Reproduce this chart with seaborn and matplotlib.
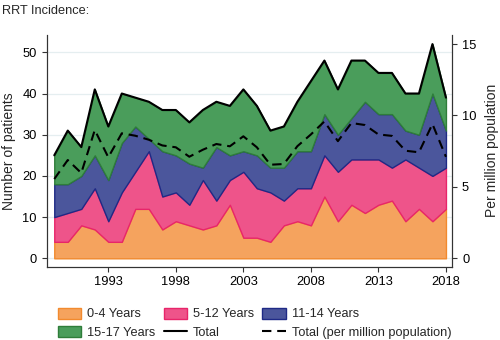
import matplotlib
matplotlib.use("Agg")
import matplotlib.pyplot as plt
import seaborn as sns
from matplotlib.patches import Patch
from matplotlib.lines import Line2D

years = list(range(1989, 2019))
age_0_4 = [4, 4, 8, 7, 4, 4, 12, 12, 7, 9, 8, 7, 8, 13, 5, 5, 4, 8, 9, 8, 15, 9, 13, 11, 13, 14, 9, 12, 9, 12]
cum_0_12 = [10, 11, 12, 17, 9, 16, 21, 26, 15, 16, 13, 19, 14, 19, 21, 17, 16, 14, 17, 17, 25, 21, 24, 24, 24, 22, 24, 22, 20, 22]
cum_0_14 = [18, 18, 20, 25, 19, 28, 32, 29, 26, 25, 23, 22, 27, 25, 26, 25, 22, 22, 26, 26, 35, 30, 34, 38, 35, 35, 31, 30, 40, 31]
total = [25, 31, 27, 41, 32, 40, 39, 38, 36, 36, 33, 36, 38, 37, 41, 37, 31, 32, 38, 43, 48, 41, 48, 48, 45, 45, 40, 40, 52, 39]
per_million = [5.55, 6.88, 5.97, 8.98, 7.07, 8.75, 8.58, 8.3, 7.9, 7.77, 7.11, 7.6, 8.0, 7.84, 8.54, 7.77,
               6.55, 6.6, 7.85, 8.67, 9.58, 8.2, 9.47, 9.33, 8.67, 8.57, 7.53, 7.42, 9.4, 7.1]

age_5_12 = [b - a for a, b in zip(age_0_4, cum_0_12)]
age_11_14 = [b - a for a, b in zip(cum_0_12, cum_0_14)]
age_15_17 = [b - a for a, b in zip(cum_0_14, total)]

labels = ["0-4 Years", "5-12 Years", "11-14 Years", "15-17 Years"]
fills = ["#F5A35E", "#EE548A", "#4B569C", "#4A9D5B"]
edges = ["#F28A2E", "#E8256A", "#1F2A86", "#2F7D3A"]
xticks = [1993, 1998, 2003, 2008, 2013, 2018]

sns.set_theme(style="white")
plt.rcParams["font.family"] = ["Liberation Sans", "DejaVu Sans"]

fig = plt.figure(figsize=(5, 3.4), dpi=100)
ax = fig.add_axes([0.0934, 0.2156, 0.8112, 0.6814])

series = [age_0_4, age_5_12, age_11_14, age_15_17]
lower = [0] * len(years)
for s, fc, ec in zip(series, fills, edges):
    upper = [l + v for l, v in zip(lower, s)]
    ax.fill_between(years, lower, upper, facecolor=fc, edgecolor=ec, linewidth=1.0, zorder=2)
    lower = upper

sns.lineplot(x=years, y=total, color="black", linewidth=1.5, ax=ax, zorder=4)

ax.set_xlim(1988.44, 2018.47)
ax.set_ylim(-2.04, 54.2)
ax.set_yticks([0, 10, 20, 30, 40, 50])
ax.set_xticks(xticks)
ax.set_xticklabels([str(t) for t in xticks])
ax.set_axisbelow(True)
ax.yaxis.grid(True, color="#E5EEF0", linewidth=0.9)
ax.xaxis.grid(False)
ax.set_xlabel("")
ax.set_ylabel("Number of patients", fontsize=10, labelpad=5)
for sp in ["left", "bottom", "right"]:
    ax.spines[sp].set_color("#333333")
    ax.spines[sp].set_linewidth(0.8)
ax.spines["top"].set_visible(False)
ax.tick_params(axis="both", which="both", direction="out", length=3.5, width=0.8,
               colors="#333333", labelsize=9.3, labelcolor="black", bottom=True, left=True)
ax.tick_params(axis="x", pad=3)

ax2 = ax.twinx()
sns.lineplot(x=years, y=per_million, color="black", linewidth=1.5, linestyle="--", ax=ax2, zorder=5)
for l in ax2.lines:
    l.set_dashes((4.5, 2.8))
ax2.set_ylim(-0.588, 15.63)
ax2.set_yticks([0, 5, 10, 15])
ax2.set_ylabel("Per million population", fontsize=10, labelpad=6)
ax2.grid(False)
for sp in ["left", "bottom", "right"]:
    ax2.spines[sp].set_color("#333333")
    ax2.spines[sp].set_linewidth(0.8)
ax2.spines["top"].set_visible(False)
ax2.tick_params(axis="y", direction="out", length=3.5, width=0.8, colors="#333333",
                labelsize=9.3, labelcolor="black", right=True)

fig.text(0.004, 0.968, "RRT Incidence:", fontsize=9.2, ha="left", va="center")

h = [Patch(facecolor=fc, edgecolor=ec, linewidth=1.0) for fc, ec in zip(fills, edges)]
h_total = Line2D([], [], color="black", linewidth=1.5)
h_pm = Line2D([], [], color="black", linewidth=1.5, linestyle=(0, (4.5, 2.8)))
handles = [h[0], h[3], h[1], h_total, h[2], h_pm]
leg_labels = [labels[0], labels[3], labels[1], "Total", labels[2], "Total (per million population)"]
fig.legend(handles, leg_labels, loc="lower left", bbox_to_anchor=(0.1, -0.02), ncol=3,
           frameon=False, fontsize=9.2, handlelength=1.85, handleheight=0.95, handletextpad=0.45,
           columnspacing=0.65, labelspacing=0.45, borderaxespad=0.2)

fig.savefig("out.png", dpi=100)
